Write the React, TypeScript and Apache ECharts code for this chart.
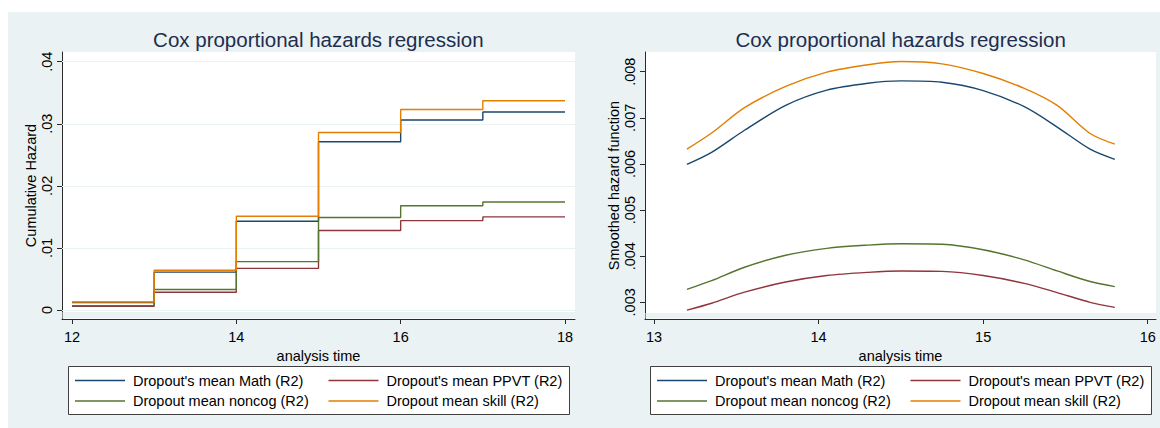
import { useEffect, useRef } from "react";
import * as echarts from "echarts";

const FONT = "'Liberation Sans', Arial, Helvetica, sans-serif";

const seriesNames = [
  "Dropout's mean Math (R2)",
  "Dropout's mean PPVT (R2)",
  "Dropout mean noncog (R2)",
  "Dropout mean skill (R2)",
];
const seriesColors = ["#1a476f", "#90353b", "#55752f", "#e37e00"];

// Left panel: cumulative hazard, value held on each interval starting at stepTimes[i]
const stepTimes = [12, 13, 14, 15, 16, 17, 18];
const cumMath = [0.0012, 0.0061, 0.0143, 0.0271, 0.0306, 0.0319];
const cumPPVT = [0.0006, 0.00285, 0.0067, 0.0128, 0.0144, 0.015];
const cumNoncog = [0.0007, 0.0033, 0.0078, 0.0149, 0.0168, 0.0174];
const cumSkill = [0.0013, 0.0064, 0.0151, 0.0286, 0.0323, 0.0337];
const leftXTicks = [12, 14, 16, 18];
const leftYTicks = [0, 0.01, 0.02, 0.03, 0.04];

// Right panel: smoothed hazard function
const smoothTimes = [13.2, 13.35, 13.55, 13.8, 14.05, 14.3, 14.5, 14.75, 15.0, 15.25, 15.45, 15.65, 15.8];
const hazMath = [0.00599, 0.00625, 0.00673, 0.00727, 0.0076, 0.00775, 0.0078, 0.00777, 0.00759, 0.00724, 0.0068, 0.00632, 0.0061];
const hazPPVT = [0.00283, 0.00298, 0.00322, 0.00344, 0.00358, 0.00365, 0.00368, 0.00367, 0.00358, 0.00341, 0.00321, 0.003, 0.00289];
const hazNoncog = [0.00328, 0.00347, 0.00376, 0.00402, 0.00417, 0.00424, 0.00427, 0.00426, 0.00414, 0.00392, 0.00368, 0.00345, 0.00334];
const hazSkill = [0.00632, 0.00667, 0.00722, 0.00768, 0.00799, 0.00815, 0.00822, 0.00817, 0.00796, 0.00764, 0.00727, 0.00666, 0.00643];
const rightXTicks = [13, 14, 15, 16];
const rightYTicks = [0.003, 0.004, 0.005, 0.006, 0.007, 0.008];

const titleText = "Cox proportional hazards regression";
const BG = "#eaf2f3";
const AXIS = "#2a2a2a";

function fmtTick(v: number): string {
  const s = String(+Number(v).toFixed(5));
  return s.startsWith("0.") ? s.slice(1) : s;
}

function stepData(vals: number[]) {
  return stepTimes.map((t, i) => [t, vals[Math.min(i, vals.length - 1)]]);
}

function smoothData(vals: number[]) {
  return smoothTimes.map((t, i) => [t, vals[i]]);
}

const txt = { fontFamily: FONT, fontSize: 14.5, color: "#000" };

function xAxisCfg(gridIndex: number, min: number, max: number, ticks: number[]) {
  return {
    type: "value",
    gridIndex,
    min,
    max,
    name: "analysis time",
    nameLocation: "middle",
    nameGap: 24,
    nameTextStyle: txt,
    axisLine: { show: true, onZero: false, lineStyle: { color: AXIS, width: 1 } },
    axisTick: { show: true, length: 5, customValues: ticks, lineStyle: { color: AXIS, width: 1 } },
    axisLabel: { customValues: ticks, margin: 10, ...txt, formatter: (v: number) => fmtTick(v) },
    splitLine: { show: false },
  };
}

function yAxisCfg(gridIndex: number, min: number, max: number, ticks: number[], name: string) {
  return {
    type: "value",
    gridIndex,
    min,
    max,
    name,
    nameLocation: "middle",
    nameGap: 22,
    nameTextStyle: txt,
    axisLine: { show: true, onZero: false, lineStyle: { color: AXIS, width: 1 } },
    axisTick: { show: true, length: 5, customValues: ticks, lineStyle: { color: AXIS, width: 1 } },
    axisLabel: { customValues: ticks, rotate: 90, margin: 8, ...txt, formatter: (v: number) => fmtTick(v) },
    splitLine: { show: false },
  };
}

function gridLines(ticks: number[]) {
  return {
    silent: true,
    z: 1,
    symbol: ["none", "none"],
    label: { show: false },
    lineStyle: { color: BG, width: 1, type: "solid" },
    emphasis: { disabled: true },
    data: ticks.map((v) => ({ yAxis: v })),
  };
}

export default function App() {
  const ref = useRef<HTMLDivElement>(null);

  useEffect(() => {
    if (!ref.current) return;
    const chart = echarts.init(ref.current, undefined, { renderer: "svg" });

    const leftVals = [cumMath, cumPPVT, cumNoncog, cumSkill];
    const rightVals = [hazMath, hazPPVT, hazNoncog, hazSkill];

    const leftSeries = leftVals.map((vals, i) => ({
      type: "line",
      name: seriesNames[i],
      xAxisIndex: 0,
      yAxisIndex: 0,
      step: "end",
      symbol: "none",
      z: 2,
      silent: true,
      lineStyle: { color: seriesColors[i], width: 1.4 },
      itemStyle: { color: seriesColors[i] },
      data: stepData(vals),
      ...(i === 0 ? { markLine: gridLines(leftYTicks) } : {}),
    }));

    const rightSeries = rightVals.map((vals, i) => ({
      type: "line",
      name: seriesNames[i],
      xAxisIndex: 1,
      yAxisIndex: 1,
      smooth: 0.3,
      symbol: "none",
      z: 2,
      silent: true,
      lineStyle: { color: seriesColors[i], width: 1.4 },
      itemStyle: { color: seriesColors[i] },
      data: smoothData(vals),
      ...(i === 0 ? { markLine: gridLines(rightYTicks) } : {}),
    }));

    const legendBase = {
      orient: "vertical",
      padding: 0,
      icon: "rect",
      itemWidth: 50,
      itemHeight: 1.4,
      itemGap: 4.5,
      selectedMode: false,
      top: 372.5,
      itemStyle: { borderWidth: 0 },
      textStyle: { ...txt, lineHeight: 16, padding: [0, 0, 0, 3] },
    };

    const titleBase = {
      text: titleText,
      top: 39,
      textAlign: "center",
      textVerticalAlign: "middle",
      padding: 0,
      textStyle: { fontFamily: FONT, fontSize: 20.5, fontWeight: "normal", color: "#1f2d4f" },
    };

    chart.setOption({
      animation: false,
      backgroundColor: "#ffffff",
      title: [
        { ...titleBase, left: 318.3 },
        { ...titleBase, left: 900.6 },
      ],
      grid: [
        { left: 62, top: 52, width: 513, height: 267, show: true, backgroundColor: "#ffffff", borderWidth: 0, containLabel: false, outerBoundsMode: "none" },
        { left: 645, top: 52, width: 511, height: 267, show: true, backgroundColor: "#ffffff", borderWidth: 0, containLabel: false, outerBoundsMode: "none" },
      ],
      xAxis: [
        xAxisCfg(0, 11.8783, 18.1217, leftXTicks),
        xAxisCfg(1, 12.9453, 16.0504, rightXTicks),
      ],
      yAxis: [
        yAxisCfg(0, -0.00145, 0.04156, leftYTicks, "Cumulative Hazard"),
        yAxisCfg(1, 0.002638, 0.008427, rightYTicks, "Smoothed hazard function"),
      ],
      legend: [
        { ...legendBase, left: 75, data: [seriesNames[0], seriesNames[2]] },
        { ...legendBase, left: 328.5, data: [seriesNames[1], seriesNames[3]] },
        { ...legendBase, left: 657, data: [seriesNames[0], seriesNames[2]] },
        { ...legendBase, left: 910.5, data: [seriesNames[1], seriesNames[3]] },
      ],
      graphic: [
        { type: "rect", z: -10, silent: true, shape: { x: 8, y: 12, width: 1152, height: 416 }, style: { fill: BG } },
        { type: "rect", z: 1, silent: true, shape: { x: 62.5, y: 312, width: 512.5, height: 6.5 }, style: { fill: BG } },
        { type: "rect", z: 1, silent: true, shape: { x: 645.5, y: 313, width: 510.5, height: 5.5 }, style: { fill: BG } },
        { type: "rect", z: 3, silent: true, shape: { x: 68.5, y: 366.5, width: 501, height: 48 }, style: { fill: "#ffffff", stroke: "#404040", lineWidth: 1 } },
        { type: "rect", z: 3, silent: true, shape: { x: 650.5, y: 366.5, width: 501, height: 48 }, style: { fill: "#ffffff", stroke: "#404040", lineWidth: 1 } },
      ],
      series: [...leftSeries, ...rightSeries],
    });

    return () => {
      chart.dispose();
    };
  }, []);

  return (
    <div
      ref={ref}
      style={{ position: "absolute", left: 0, top: 0, width: 1160, height: 428 }}
    />
  );
}
